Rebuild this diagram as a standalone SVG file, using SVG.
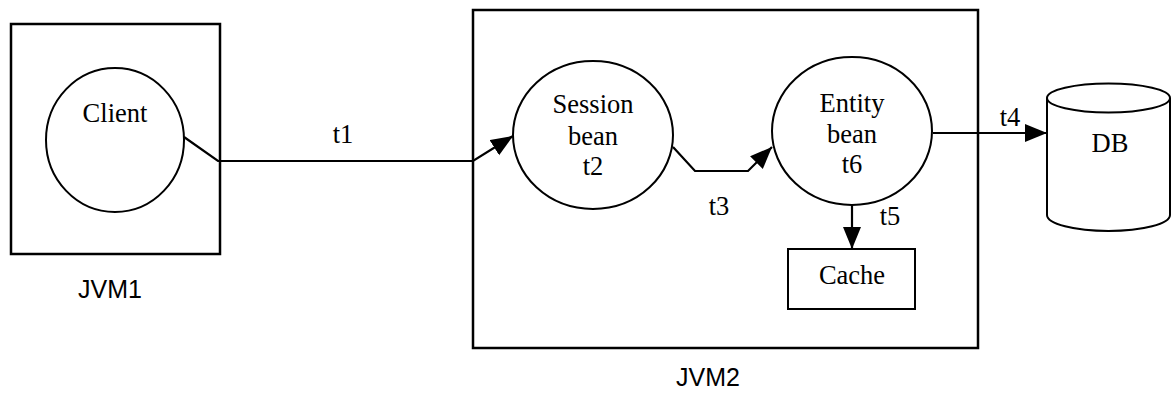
<svg xmlns="http://www.w3.org/2000/svg" width="1172" height="393" viewBox="0 0 1172 393">
  <style>
    .box { fill: none; stroke: #000; stroke-width: 2.5; }
    .node { fill: #fff; stroke: #000; stroke-width: 2; }
    .lbl { font-family: "Liberation Serif", "Times New Roman", serif; font-size: 26.5px; fill: #000; text-anchor: middle; }
    .jvm { font-family: "Liberation Sans", Arial, sans-serif; font-size: 25px; fill: #000; text-anchor: middle; }
    .edge { fill: none; stroke: #000; stroke-width: 2.2; stroke-linejoin: miter; }
  </style>
  <defs>
    <marker id="arrow" markerUnits="userSpaceOnUse" markerWidth="24" markerHeight="20" refX="22" refY="9" orient="auto">
      <path d="M0,0 L22,9 L0,18 Z" fill="#000"/>
    </marker>
  </defs>
  <rect width="1172" height="393" fill="#fff"/>

  <!-- container boxes -->
  <g id="jvm1">
    <rect class="box" x="11" y="24" width="209" height="230"/>
    <text class="jvm" x="110" y="298">JVM1</text>
  </g>
  <g id="jvm2">
    <rect class="box" x="473" y="10" width="505" height="338"/>
    <text class="jvm" x="708" y="386">JVM2</text>
  </g>

  <!-- connectors -->
  <g id="connectors">
    <path class="edge" d="M184,137 L218,161 L473,161 L513,136" marker-end="url(#arrow)"/>
    <path class="edge" d="M673,147 L695,171 L748,171 L772,147" marker-end="url(#arrow)"/>
    <path class="edge" d="M933,133 L1047,133" marker-end="url(#arrow)"/>
    <path class="edge" d="M852,205 L852,249" marker-end="url(#arrow)"/>
    <text class="lbl" x="343" y="143">t1</text>
    <text class="lbl" x="719" y="215">t3</text>
    <text class="lbl" x="1010" y="126">t4</text>
    <text class="lbl" x="890" y="225">t5</text>
  </g>

  <!-- nodes -->
  <g id="client">
    <ellipse class="node" cx="115" cy="140" rx="69" ry="72"/>
    <text class="lbl" x="115" y="122">Client</text>
  </g>
  <g id="session-bean">
    <ellipse class="node" cx="593" cy="135" rx="80" ry="74"/>
    <text class="lbl" x="593" y="113">Session</text>
    <text class="lbl" x="593" y="145">bean</text>
    <text class="lbl" x="593" y="175">t2</text>
  </g>
  <g id="entity-bean">
    <ellipse class="node" cx="852" cy="131" rx="80" ry="74"/>
    <text class="lbl" x="852" y="112">Entity</text>
    <text class="lbl" x="852" y="143">bean</text>
    <text class="lbl" x="852" y="173">t6</text>
  </g>
  <g id="cache">
    <rect class="node" x="788" y="249" width="127" height="60"/>
    <text class="lbl" x="852" y="284">Cache</text>
  </g>
  <g id="db">
    <path class="node" d="M1047,98 L1047,215 A61.5,16 0 0 0 1170,215 L1170,98"/>
    <ellipse class="node" cx="1108.5" cy="98" rx="61.5" ry="14.5"/>
    <text class="lbl" x="1110" y="152">DB</text>
  </g>
</svg>
